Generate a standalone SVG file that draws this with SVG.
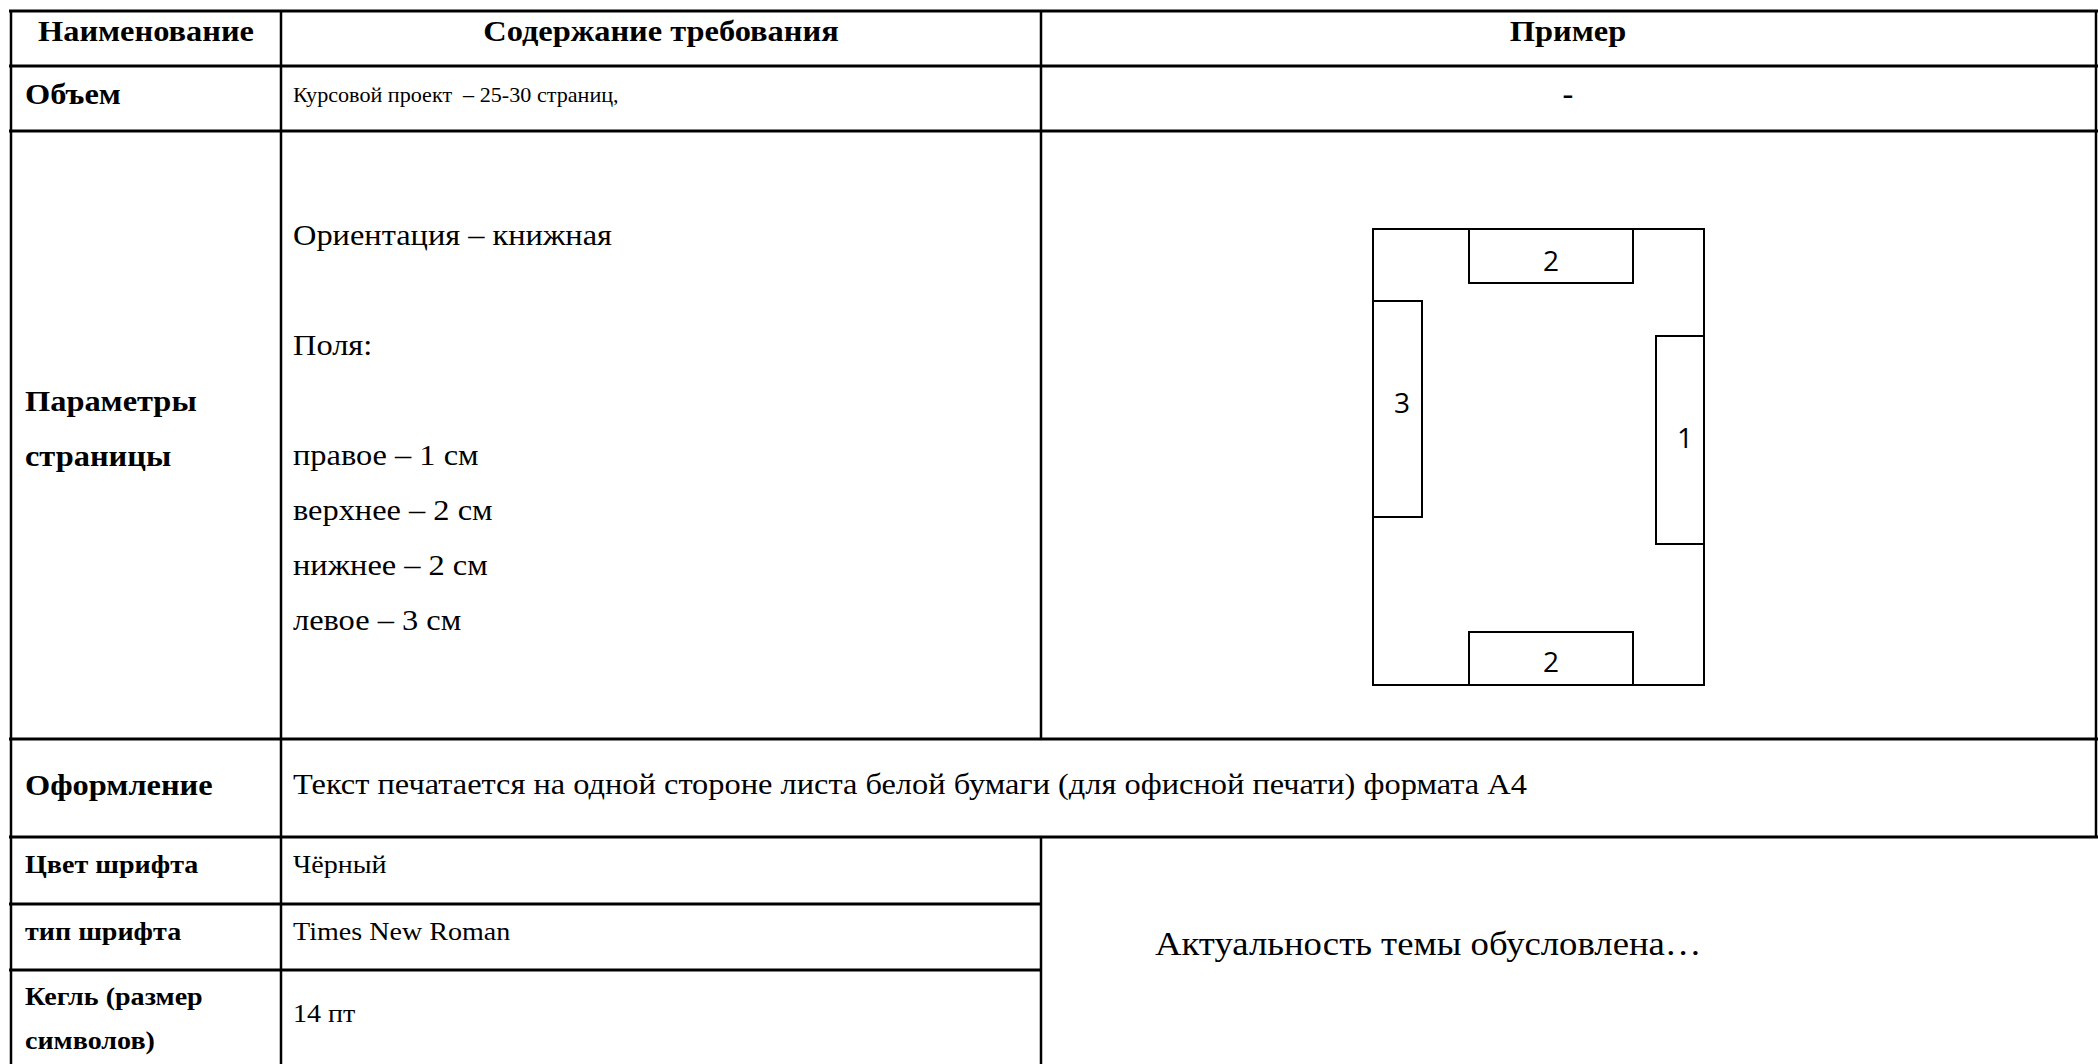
<svg xmlns="http://www.w3.org/2000/svg" width="2098" height="1064" viewBox="0 0 2098 1064">
<style>
  .bg { fill: #ffffff; }
  .hl { stroke: #000; stroke-width: 3; }
  .vl { stroke: #000; stroke-width: 2.5; }
  .box { fill: #fff; stroke: #000; stroke-width: 2; }
  .t { font-family: "Liberation Serif", "Times New Roman", "DejaVu Serif", serif; fill: #000; font-size: 30px;
       transform: scaleX(1.08); transform-box: fill-box; transform-origin: 0 0; }
  .c { text-anchor: middle; transform-origin: 50% 0; }
  .b { font-weight: bold; }
  .s { font-size: 26px; }
  .xs { font-size: 20.5px; }
  .lg { font-size: 34px; }
  .num { font-family: "Open Sans", "Noto Sans", sans-serif; font-size: 28px; fill: #000; text-anchor: middle; }
</style>
<rect class="bg" x="0" y="0" width="2098" height="1064"/>

<g id="grid">
  <line class="hl" x1="9" y1="11" x2="2098" y2="11"/>
  <line class="hl" x1="9" y1="66" x2="2098" y2="66"/>
  <line class="hl" x1="9" y1="131" x2="2098" y2="131"/>
  <line class="hl" x1="9" y1="739" x2="2098" y2="739"/>
  <line class="hl" x1="9" y1="837" x2="2098" y2="837"/>
  <line class="hl" x1="9" y1="904" x2="1042" y2="904"/>
  <line class="hl" x1="9" y1="970" x2="1042" y2="970"/>
  <line class="vl" x1="11" y1="10" x2="11" y2="1064"/>
  <line class="vl" x1="281" y1="10" x2="281" y2="1064"/>
  <line class="vl" x1="1041" y1="10" x2="1041" y2="739"/>
  <line class="vl" x1="1041" y1="837" x2="1041" y2="1064"/>
  <line class="vl" x1="2096" y1="10" x2="2096" y2="838"/>
</g>

<g id="header">
  <text class="t b c" x="146" y="41">Наименование</text>
  <text class="t b c" x="661" y="41">Содержание требования</text>
  <text class="t b c" x="1568" y="41">Пример</text>
</g>

<g id="row-volume">
  <text class="t b" x="25" y="104">Объем</text>
  <text class="t xs" x="293" y="102">Курсовой проект&#160; – 25-30 страниц,</text>
  <text class="t b c" x="1568" y="104">-</text>
</g>

<g id="row-page">
  <text class="t b" x="25" y="411">Параметры</text>
  <text class="t b" x="25" y="466">страницы</text>
  <text class="t" x="293" y="245">Ориентация – книжная</text>
  <text class="t" x="293" y="355">Поля:</text>
  <text class="t" x="293" y="465">правое – 1 см</text>
  <text class="t" x="293" y="520">верхнее – 2 см</text>
  <text class="t" x="293" y="575">нижнее – 2 см</text>
  <text class="t" x="293" y="630">левое – 3 см</text>
</g>

<g id="page-diagram">
  <rect class="box" x="1373" y="229" width="331" height="456"/>
  <rect class="box" x="1469" y="229" width="164" height="54"/>
  <text class="num" x="1551" y="271">2</text>
  <rect class="box" x="1373" y="301" width="49" height="216"/>
  <text class="num" x="1402" y="413">3</text>
  <rect class="box" x="1656" y="336" width="48" height="208"/>
  <text class="num" x="1685" y="448">1</text>
  <rect class="box" x="1469" y="632" width="164" height="53"/>
  <text class="num" x="1551" y="672">2</text>
</g>

<g id="row-design">
  <text class="t b" x="25" y="795">Оформление</text>
  <text class="t" x="293" y="794">Текст печатается на одной стороне листа белой бумаги (для офисной печати) формата А4</text>
</g>

<g id="row-color">
  <text class="t b s" x="25" y="873">Цвет шрифта</text>
  <text class="t s" x="293" y="873">Чёрный</text>
</g>

<g id="row-type">
  <text class="t b s" x="25" y="940">тип шрифта</text>
  <text class="t s" x="293" y="940">Times New Roman</text>
</g>

<g id="row-size">
  <text class="t b s" x="25" y="1005">Кегль (размер</text>
  <text class="t b s" x="25" y="1049">символов)</text>
  <text class="t s" x="293" y="1022">14 пт</text>
</g>

<g id="example-text">
  <text class="t lg" x="1155" y="955">Актуальность темы обусловлена…</text>
</g>

<g id="connectors"></g>
</svg>
